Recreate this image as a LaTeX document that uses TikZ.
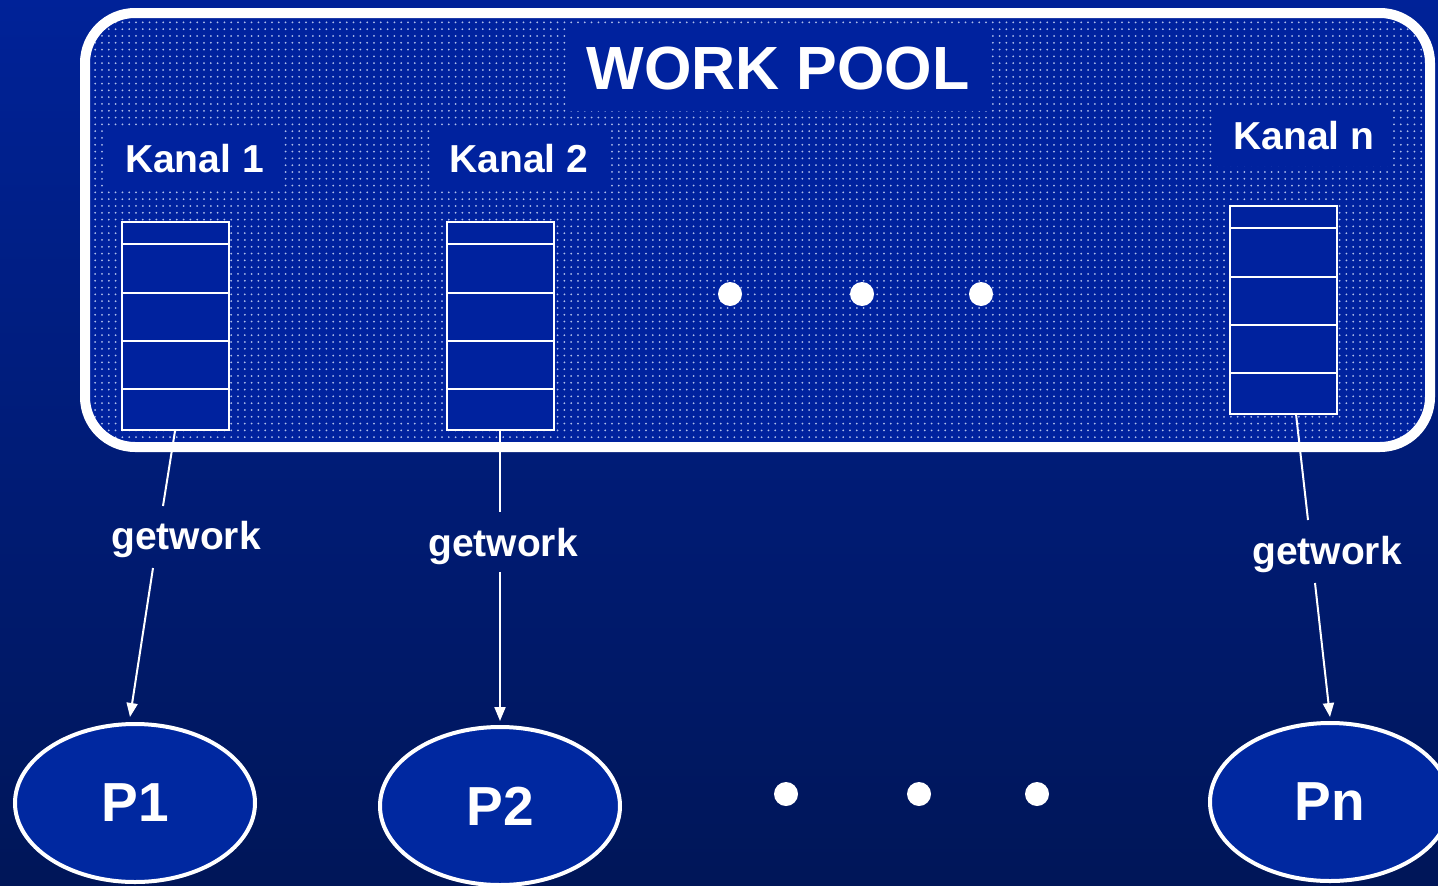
\documentclass[tikz,border=0pt]{standalone}
\usepackage{fontspec}
\setmainfont{Liberation Sans}
\usetikzlibrary{shapes.geometric,arrows.meta,patterns}
\definecolor{bgtop}{RGB}{0,34,152}
\definecolor{bgbot}{RGB}{0,22,88}
\definecolor{poolblue}{RGB}{0,34,158}
\definecolor{dotcol}{RGB}{175,190,235}
\definecolor{procblue}{RGB}{0,40,160}
\pgfdeclarepatternformonly{pooldots}{\pgfpoint{-1.2pt}{-1.2pt}}{\pgfpoint{1.2pt}{1.2pt}}{\pgfpoint{6.8pt}{6.8pt}}{%
  \pgfpathcircle{\pgfpointorigin}{1pt}\pgfusepath{fill}}
\begin{document}
\begin{tikzpicture}[x=1pt,y=-1pt,
  labelbox/.style={fill=poolblue,inner sep=0pt,text=white,font=\bfseries\fontsize{39}{44}\selectfont},
  queue/.style={draw=white,line width=2pt,fill=poolblue,minimum width=107pt,minimum height=208pt,inner sep=0pt},
  proc/.style={ellipse,draw=white,line width=4pt,fill=procblue,minimum width=240pt,minimum height=158pt,inner sep=0pt,text=white,font=\bfseries\fontsize{55}{60}\selectfont},
  gw/.style={text=white,inner sep=0pt,font=\bfseries\fontsize{39}{44}\selectfont},
  conn/.style={draw=white,line width=2pt},
  tip/.style={-{Triangle[length=14pt,width=11pt]}},
  bigdot/.style={circle,fill=white,minimum size=24pt,inner sep=0pt}]
\useasboundingbox (0,0) rectangle (1438,886);
\shade[top color=bgtop,bottom color=bgbot] (0,0) rectangle (1438,886);
% pool
\fill[poolblue,rounded corners=50pt] (85,13) rectangle (1430,447);
\path[pattern=pooldots,pattern color=dotcol,rounded corners=50pt] (85,13) rectangle (1430,447);
\draw[white,line width=10pt,rounded corners=50pt] (85,13) rectangle (1430,447);
% labels
\node[labelbox,minimum width=423pt,minimum height=83pt,font=\bfseries\fontsize{61}{66}\selectfont] (wp) at (778,69) {WORK POOL};
\node[labelbox,minimum width=175pt,minimum height=58pt] (k1) at (194.5,159) {Kanal 1};
\node[labelbox,minimum width=177pt,minimum height=58pt] (k2) at (519,159) {Kanal 2};
\node[labelbox,minimum width=178pt,minimum height=61pt] (kn) at (1304,135.5) {Kanal n};
% queues
\node[queue] (q1) at (175.5,326) {};
\node[queue] (q2) at (500.5,326) {};
\node[queue] (qn) at (1283.5,310) {};
\foreach \q in {q1,q2,qn}{
  \foreach \d in {23,72,120,168}{
    \draw[white,line width=2pt] ([yshift=-\d pt]\q.north west) -- ([yshift=-\d pt]\q.north east);
  }
}
% dots in pool
\node[bigdot] (d1) at (730,294) {};
\node[bigdot] (d2) at (862,294) {};
\node[bigdot] (d3) at (981,294) {};
% processes
\node[proc] (p1) at (135,803) {P1};
\node[proc] (p2) at (500,806) {P2};
\node[proc] (pn) at (1330,802) {Pn};
\node[bigdot] (e1) at (786,794) {};
\node[bigdot] (e2) at (919,794) {};
\node[bigdot] (e3) at (1037,794) {};
% getwork labels
\node[gw] (g1) at (186,539) {getwork};
\node[gw] (g2) at (503,546) {getwork};
\node[gw] (gn) at (1327,554) {getwork};
\coordinate (a1) at (163,506); \coordinate (b1) at (153,568); \coordinate (t1) at (130,717);
\coordinate (a2) at (500,512); \coordinate (b2) at (500,572); \coordinate (t2) at (500,721);
\coordinate (an) at (1308,520); \coordinate (bn) at (1315,583); \coordinate (tn) at (1330,717);
\coordinate (s1) at (175,431); \coordinate (s2) at (500,431); \coordinate (sn) at (1296,414);
\draw[conn] (s1) -- (a1);
\draw[conn,tip] (b1) -- (t1);
\draw[conn] (s2) -- (a2);
\draw[conn,tip] (b2) -- (t2);
\draw[conn] (sn) -- (an);
\draw[conn,tip] (bn) -- (tn);
\end{tikzpicture}
\end{document}
